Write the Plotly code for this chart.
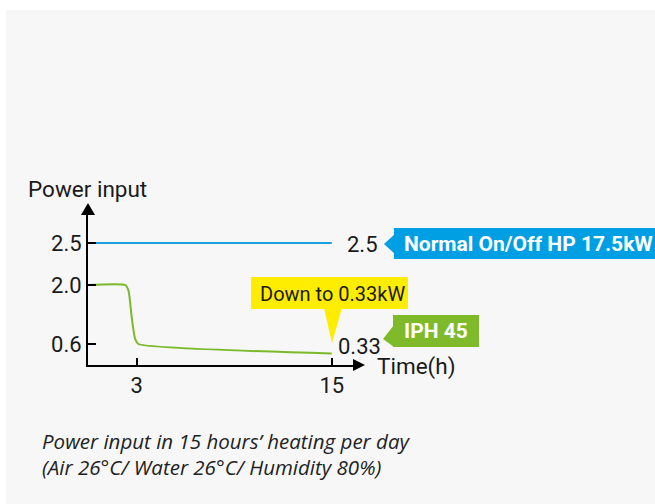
import numpy as np
import plotly.graph_objects as go

# ---- data ----
hours_iph = [0, 2.3, 2.5, 2.7, 2.9, 3.1, 15]
power_iph = [2.0, 2.0, 1.85, 1.2, 0.72, 0.6, 0.33]
hours_hp = [0, 15]
power_hp = [2.5, 2.5]
y_tick_values = [0.6, 2.0, 2.5]
y_tick_labels = ["0.6", "2.0", "2.5"]
x_tick_values = [3, 15]
x_tick_labels = ["3", "15"]

# the drawing uses a non-uniform vertical scale (as in the original graphic)
scale_vals = [0, 0.6, 2.0, 2.5]
scale_pos = [0, 21, 80, 122]
def ymap(v):
    return np.interp(v, scale_vals, scale_pos)

W, H = 655, 504
L, R, T, B = 88, 297, 210, 139
PW, PH = W - L - R, H - T - B

def P(px, py):
    return (px - L) / PW, (H - B - py) / PH

GREEN = "#7ab929"
BLUE = "#1aa0dc"
FONT = "Roboto"
TXT = "#1a1a1a"

fig = go.Figure()
fig.add_trace(go.Scatter(x=hours_hp, y=ymap(power_hp), mode="lines",
                         line=dict(color=BLUE, width=2), hoverinfo="skip"))
fig.add_trace(go.Scatter(x=hours_iph, y=ymap(power_iph), mode="lines",
                         line=dict(color=GREEN, width=2, shape="spline", smoothing=0.5),
                         hoverinfo="skip"))

shapes = []
def path(pts, color):
    s = ""
    for i, (px, py) in enumerate(pts):
        x, y = P(px, py)
        s += ("M" if i == 0 else "L") + f"{x:.5f},{y:.5f} "
    return dict(type="path", xref="paper", yref="paper", path=s + "Z",
                fillcolor=color, line=dict(width=0), layer="above")

def rect(x0, y0, x1, y1, color):
    a = P(x0, y1); b = P(x1, y0)
    return dict(type="rect", xref="paper", yref="paper", x0=a[0], y0=a[1], x1=b[0], y1=b[1],
                fillcolor=color, line=dict(width=0), layer="above")

# background panel
shapes.append(dict(type="rect", xref="paper", yref="paper",
                   x0=P(6, 0)[0], x1=P(660, 0)[0], y0=P(0, 10)[1], y1=P(0, 510)[1],
                   fillcolor="#f7f7f7", line=dict(width=0), layer="below"))
# axis arrowheads
shapes.append(path([(88, 203), (81, 215), (95, 215)], "black"))
shapes.append(path([(365, 365), (353, 359), (353, 371)], "black"))
# blue label
shapes.append(rect(394, 228, 655, 259, "#009fe3"))
shapes.append(path([(384, 244), (395, 234), (395, 254)], "#009fe3"))
# green label
shapes.append(rect(393, 315, 479, 347, "#7fba2a"))
shapes.append(path([(383, 339), (394, 325), (394, 347)], "#7fba2a"))
# yellow callout
shapes.append(rect(251, 277, 408, 309, "#ffed00"))
shapes.append(path([(324, 308), (342, 308), (332, 343)], "#ffed00"))

ann = []
def text(px, py, s, size, color=TXT, xanchor="left", bold=False, italic=False, family=FONT):
    x, y = P(px, py)
    ann.append(dict(x=x, y=y, xref="paper", yref="paper", text=s, showarrow=False,
                    xanchor=xanchor, yanchor="middle",
                    font=dict(family=family, size=size, color=color,
                              weight="bold" if bold else "normal",
                              style="italic" if italic else "normal")))

text(26, 189, "Power input", 22.5)
text(375, 366, "Time(h)", 22.5)
text(345, 244, "2.5", 22)
text(336, 346, "0.33", 22)
text(528, 244, "Normal On/Off HP 17.5kW", 21, color="white", xanchor="center", bold=True)
text(436, 331, "IPH 45", 21, color="white", xanchor="center", bold=True)
text(332, 294, "Down to 0.33kW", 20, xanchor="center")
text(40, 441, "Power input in 15 hours’ heating per day", 20.5, color="#222", italic=True, family="Open Sans")
text(40, 467, "(Air 26°C/ Water 26°C/ Humidity 80%)", 20.5, color="#222", italic=True, family="Open Sans")

fig.update_layout(
    width=W, height=H, margin=dict(l=L, r=R, t=T, b=B),
    paper_bgcolor="white", plot_bgcolor="rgba(0,0,0,0)",
    showlegend=False, shapes=shapes, annotations=ann,
    xaxis=dict(range=[0, PW / 16.25], showgrid=False, zeroline=False,
               showline=True, linecolor="black", linewidth=2,
               ticks="inside", ticklen=7, tickwidth=1.5, tickcolor="black",
               tickvals=x_tick_values, ticktext=x_tick_labels,
               tickfont=dict(family=FONT, size=22, color=TXT)),
    yaxis=dict(range=[0, PH], showgrid=False, zeroline=False,
               showline=True, linecolor="black", linewidth=2,
               ticks="inside", ticklen=8, tickwidth=1.5, tickcolor="black",
               tickvals=list(ymap(y_tick_values)), ticktext=y_tick_labels,
               tickfont=dict(family=FONT, size=22, color=TXT)),
)
fig.write_html("out.html", config={"displayModeBar": False},
               post_script="document.body.style.margin='0';document.body.style.overflow='hidden';")
